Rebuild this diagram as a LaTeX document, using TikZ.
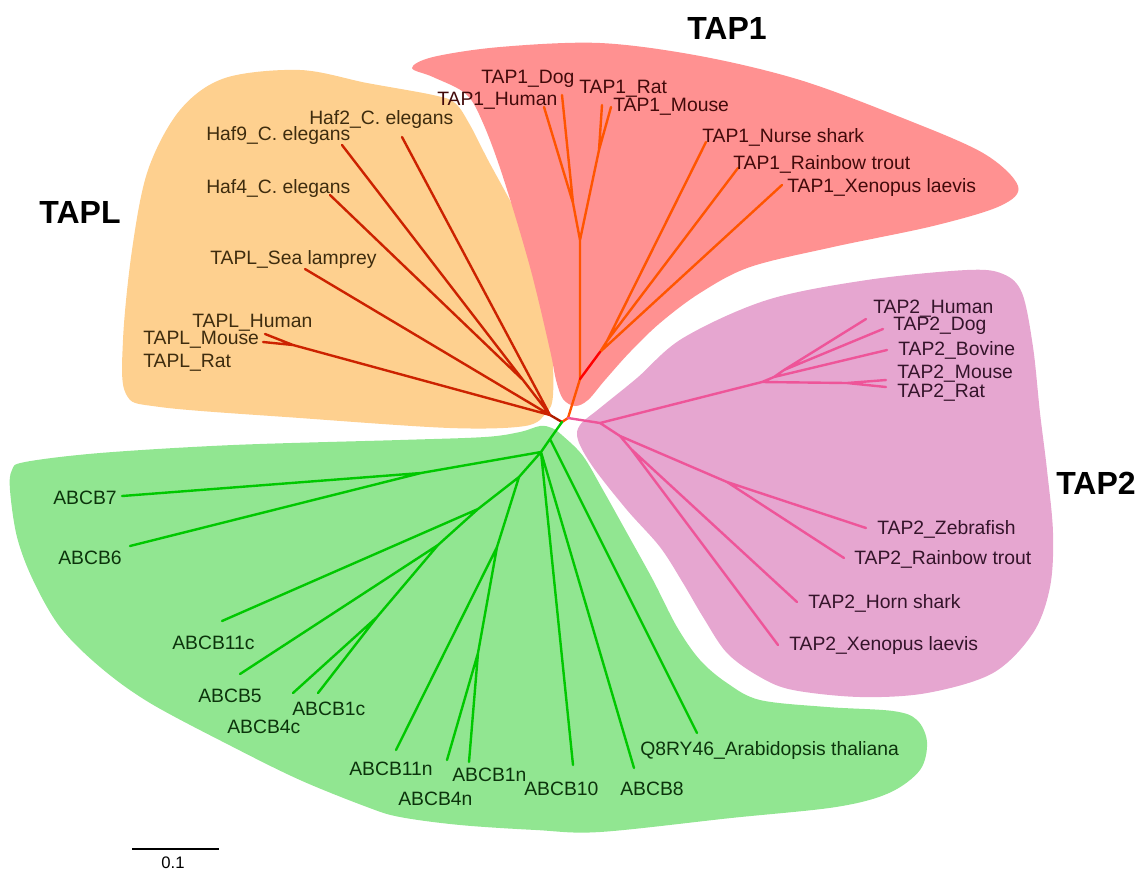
\documentclass[tikz,border=0pt]{standalone}
\usepackage{fontspec}
\setmainfont{Liberation Sans}
\definecolor{orfill}{RGB}{254,208,143}
\definecolor{rdfill}{RGB}{255,145,145}
\definecolor{pkfill}{RGB}{230,166,208}
\definecolor{grfill}{RGB}{145,230,145}
\definecolor{tlline}{RGB}{204,34,0}
\definecolor{t1line}{RGB}{255,85,0}
\definecolor{t2line}{RGB}{238,85,153}
\definecolor{grline}{RGB}{0,200,0}
\definecolor{tltext}{RGB}{62,44,14}
\definecolor{t1text}{RGB}{66,10,10}
\definecolor{t2text}{RGB}{52,20,42}
\definecolor{grtext}{RGB}{12,52,12}
\begin{document}
\begin{tikzpicture}[x=0.75pt,y=-0.75pt,
  br/.style={line width=1.8pt, line cap=round, line join=round},
  lab/.style={anchor=base west, inner sep=0pt, yshift=-5.25pt, font=\fontsize{14.5}{17}\selectfont},
  ttl/.style={inner sep=0pt, font=\fontsize{24}{28}\selectfont\bfseries},
  blob/.style={smooth cycle, tension=0.55}]
\useasboundingbox (0,0) rectangle (1141,872);

% ---------- blobs ----------
\fill[orfill] plot[blob] coordinates {(148,170) (180,110) (225,78) (300,70) (367,83) (433,95) (455,103) (470,125) (488,160) (515,210) (537,257) (551,340) (553,395) (546,413) (525,426) (450,428) (300,418) (160,407) (126,394) (123,340) (132,250)};
\fill[rdfill] plot[blob] coordinates {(412,68) (433,57) (500,47) (600,43) (700,56) (800,80) (900,117) (983,153) (1018,186) (1000,206) (933,226) (833,247) (750,267) (700,293) (660,323) (630,352) (605,380) (588,400) (575,406) (563,399) (556,380) (550,350) (530,267) (503,177) (483,123) (466,94) (433,77)};
\fill[pkfill] plot[blob] coordinates {(580,425) (600,408) (637,378) (683,338) (767,300) (867,280) (967,270) (1003,274) (1022,293) (1033,347) (1040,413) (1047,470) (1053,533) (1050,587) (1033,633) (993,673) (927,693) (860,697) (793,690) (760,677) (727,653) (703,617) (683,583) (660,547) (627,510) (593,467) (578,440)};
\fill[grfill] plot[blob] coordinates {(12,470) (25,462) (100,453) (233,445) (400,440) (485,437) (520,432) (540,426) (552,428) (563,436) (583,456) (603,490) (627,533) (653,580) (677,627) (700,660) (727,683) (760,700) (827,707) (893,711) (917,720) (927,742) (920,770) (889,793) (836,807) (731,818) (600,832) (536,830) (460,825) (400,817) (367,807) (300,780) (233,747) (150,703) (100,667) (60,627) (33,580) (17,537) (10,490)};

% ---------- tree coordinates ----------
\coordinate (c0) at (562,422);
\coordinate (t12) at (568,418);
% TAPL
\coordinate (tl) at (550,415);
\coordinate (t49) at (523,380);
\coordinate (tm) at (293,345);
\coordinate (eHaf2) at (402,137);
\coordinate (eHaf9) at (342,145);
\coordinate (eHaf4) at (330,195);
\coordinate (eSea) at (305,269);
\coordinate (eLH) at (265,334);
\coordinate (eLM) at (263,342);
% TAP1
\coordinate (t1a) at (580,379);
\coordinate (t1m) at (580,240);
\coordinate (t1hd) at (573,203);
\coordinate (t1rm) at (599,150);
\coordinate (t1b) at (600,352);
\coordinate (t1nr) at (607,341);
\coordinate (e1Hu) at (544,107);
\coordinate (e1Do) at (562,95);
\coordinate (e1Ra) at (602,105);
\coordinate (e1Mo) at (611,107);
\coordinate (e1Ns) at (706,142);
\coordinate (e1Rt) at (738,168);
\coordinate (e1Xl) at (782,185);
% TAP2
\coordinate (t2) at (600,423);
\coordinate (t2m) at (762,382);
\coordinate (t2x) at (774,377);
\coordinate (t2hd) at (784,370);
\coordinate (t2mr) at (847,383);
\coordinate (t2f) at (620,436);
\coordinate (t2zr) at (727,482);
\coordinate (t2hx) at (631,449);
\coordinate (e2Hu) at (866,319);
\coordinate (e2Do) at (883,329);
\coordinate (e2Bo) at (887,350);
\coordinate (e2Mo) at (886,380);
\coordinate (e2Ra) at (886,387);
\coordinate (e2Ze) at (866,528);
\coordinate (e2Rt) at (844,558);
\coordinate (e2Hs) at (797,602);
\coordinate (e2Xl) at (778,645);
% ABCB
\coordinate (gA) at (550,439);
\coordinate (gB) at (541,452);
\coordinate (g76) at (421,473);
\coordinate (gC) at (519,477);
\coordinate (gD) at (478,509);
\coordinate (gE) at (438,545);
\coordinate (gF) at (377,617);
\coordinate (gG) at (497,547);
\coordinate (gH) at (478,653);
\coordinate (eB7) at (122,496);
\coordinate (eB6) at (130,546);
\coordinate (eB11c) at (222,621);
\coordinate (eB5) at (240,674);
\coordinate (eB4c) at (293,693);
\coordinate (eB1c) at (318,693);
\coordinate (eB11n) at (396,750);
\coordinate (eB4n) at (447,760);
\coordinate (eB1n) at (469,762);
\coordinate (eB10) at (573,765);
\coordinate (eB8) at (634,768);
\coordinate (eQ8) at (697,733);

% ---------- branches ----------
\draw[br, color=tlline!85!black] (c0) -- (tl);
\draw[br, tlline] (tl) -- (eHaf2) (tl) -- (t49) (t49) -- (eHaf9) (t49) -- (eHaf4)
  (tl) -- (eSea) (tl) -- (tm) (tm) -- (eLH) (tm) -- (eLM);
\draw[br, t1line] (c0) -- (t12) (t12) -- (t1a) (t1a) -- (t1m) (t1m) -- (t1hd) (t1hd) -- (e1Hu) (t1hd) -- (e1Do)
  (t1m) -- (t1rm) (t1rm) -- (e1Ra) (t1rm) -- (e1Mo)
  (t1b) -- (t1nr) (t1nr) -- (e1Ns) (t1nr) -- (e1Rt) (t1b) -- (e1Xl);
\draw[br, red] (t1a) -- (t1b);
\draw[br, t2line] (t12) -- (t2) (t2) -- (t2m) (t2m) -- (t2x) (t2x) -- (t2hd) (t2hd) -- (e2Hu) (t2hd) -- (e2Do)
  (t2x) -- (e2Bo) (t2m) -- (t2mr) (t2mr) -- (e2Mo) (t2mr) -- (e2Ra)
  (t2) -- (t2f) (t2f) -- (t2zr) (t2zr) -- (e2Ze) (t2zr) -- (e2Rt)
  (t2f) -- (t2hx) (t2hx) -- (e2Hs) (t2hx) -- (e2Xl);
\draw[br, grline] (c0) -- (gA) (gA) -- (eQ8) (gA) -- (gB) (gB) -- (eB8) (gB) -- (eB10)
  (gB) -- (g76) (g76) -- (eB7) (g76) -- (eB6)
  (gB) -- (gC) (gC) -- (gD) (gD) -- (eB11c) (gD) -- (gE) (gE) -- (eB5) (gE) -- (gF)
  (gF) -- (eB4c) (gF) -- (eB1c)
  (gC) -- (gG) (gG) -- (eB11n) (gG) -- (gH) (gH) -- (eB4n) (gH) -- (eB1n);

% ---------- labels ----------
\begin{scope}[every node/.append style={lab}]
\node[text=tltext] (lHaf2) at (309,117) {Haf2\_C. elegans};
\node[text=tltext] (lHaf9) at (206,133) {Haf9\_C. elegans};
\node[text=tltext] (lHaf4) at (206,186) {Haf4\_C. elegans};
\node[text=tltext] (lSea) at (210,257) {TAPL\_Sea lamprey};
\node[text=tltext] (lLH) at (192,320) {TAPL\_Human};
\node[text=tltext] (lLM) at (143,337) {TAPL\_Mouse};
\node[text=tltext] (lLR) at (143,360) {TAPL\_Rat};
\node[text=t1text] (l1Do) at (481,76) {TAP1\_Dog};
\node[text=t1text] (l1Ra) at (579,86) {TAP1\_Rat};
\node[text=t1text] (l1Hu) at (437,98) {TAP1\_Human};
\node[text=t1text] (l1Mo) at (613,104) {TAP1\_Mouse};
\node[text=t1text] (l1Ns) at (702,135) {TAP1\_Nurse shark};
\node[text=t1text] (l1Rt) at (733,162) {TAP1\_Rainbow trout};
\node[text=t1text] (l1Xl) at (787,185) {TAP1\_Xenopus laevis};
\node[text=t2text] (l2Hu) at (873,306) {TAP2\_Human};
\node[text=t2text] (l2Do) at (893,323) {TAP2\_Dog};
\node[text=t2text] (l2Bo) at (898,348) {TAP2\_Bovine};
\node[text=t2text] (l2Mo) at (897,371) {TAP2\_Mouse};
\node[text=t2text] (l2Ra) at (897,390) {TAP2\_Rat};
\node[text=t2text] (l2Ze) at (877,527) {TAP2\_Zebrafish};
\node[text=t2text] (l2Rt) at (854,557) {TAP2\_Rainbow trout};
\node[text=t2text] (l2Hs) at (808,601) {TAP2\_Horn shark};
\node[text=t2text] (l2Xl) at (789,643) {TAP2\_Xenopus laevis};
\node[text=grtext] (lB7) at (53,497) {ABCB7};
\node[text=grtext] (lB6) at (58,557) {ABCB6};
\node[text=grtext] (lB11c) at (172,642) {ABCB11c};
\node[text=grtext] (lB5) at (198,695) {ABCB5};
\node[text=grtext] (lB1c) at (292,708) {ABCB1c};
\node[text=grtext] (lB4c) at (227,726) {ABCB4c};
\node[text=grtext] (lB11n) at (349,768) {ABCB11n};
\node[text=grtext] (lB1n) at (452,774) {ABCB1n};
\node[text=grtext] (lB4n) at (398,798) {ABCB4n};
\node[text=grtext] (lB10) at (524,788) {ABCB10};
\node[text=grtext] (lB8) at (620,788) {ABCB8};
\node[text=grtext] (lQ8) at (640,748) {Q8RY46\_Arabidopsis thaliana};
\end{scope}

% ---------- group titles ----------
\node[ttl] (tTAP1) at (727,28) {TAP1};
\node[ttl] (tTAPL) at (80,212) {TAPL};
\node[ttl] (tTAP2) at (1096,483) {TAP2};

% ---------- scale bar ----------
\coordinate (sb1) at (132,849);
\coordinate (sb2) at (219,849);
\draw[line width=1.5pt] (sb1) -- (sb2);
\node[inner sep=0pt, font=\fontsize{12.5}{15}\selectfont] (sbl) at (173,863) {0.1};
\end{tikzpicture}
\end{document}
